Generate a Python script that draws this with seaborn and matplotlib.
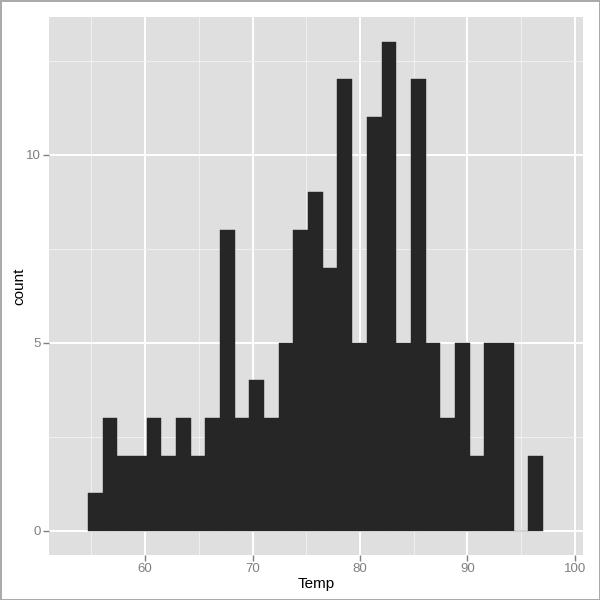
import matplotlib
matplotlib.use("Agg")
import matplotlib.pyplot as plt
import seaborn as sns
import numpy as np
import pandas as pd

sns.set_theme(style="darkgrid")
plt.rcParams["font.family"] = ["Liberation Sans", "DejaVu Sans"]

# airquality$Temp, 30 bins of width 41/30 starting at 54.667
bin_width = 41 / 30
bin_start = 54.667
counts = [1, 3, 2, 2, 3, 2, 3, 2, 3, 8, 3, 4, 3, 5, 8, 9, 7, 12, 5, 11,
          13, 5, 12, 5, 3, 5, 2, 5, 5, 0, 2]

edges = bin_start + bin_width * np.arange(len(counts) + 1)
df = pd.DataFrame({"Temp": (edges[:-1] + edges[1:]) / 2, "count": counts})

fig = plt.figure(figsize=(6, 6), dpi=100)
fig.patch.set_edgecolor("#aaaaaa")
fig.patch.set_linewidth(2)
ax = fig.add_axes([49 / 600, 45 / 600, 534 / 600, 538 / 600])
ax.set_facecolor("#dfdfdf")

sns.histplot(data=df, x="Temp", weights="count", bins=edges.tolist(),
             color="#262626", alpha=1, edgecolor="#262626", linewidth=0.3,
             ax=ax, zorder=3)

ax.set_xlim(51.05, 100.75)
ax.set_ylim(-0.64, 13.66)
ax.set_xticks([60, 70, 80, 90, 100])
ax.set_yticks([0, 5, 10])
ax.set_xticks([55, 65, 75, 85, 95], minor=True)
ax.set_yticks([2.5, 7.5, 12.5], minor=True)
ax.grid(which="major", color="white", linewidth=1.4)
ax.grid(which="minor", color="#f0f0f0", linewidth=0.7)
ax.set_axisbelow(True)
for s in ax.spines.values():
    s.set_visible(False)

ax.tick_params(which="major", bottom=True, left=True, length=4, width=1,
               color="#7f7f7f", labelcolor="#7f7f7f", labelsize=9.5, pad=2)
ax.tick_params(which="minor", length=0)
ax.set_xlabel("Temp", fontsize=11, color="black")
ax.set_ylabel("count", fontsize=11, color="black")
ax.xaxis.set_label_coords(0.5, -0.04)
ax.yaxis.set_label_coords(-0.042, 0.5)

fig.savefig("out.png", dpi=100)
